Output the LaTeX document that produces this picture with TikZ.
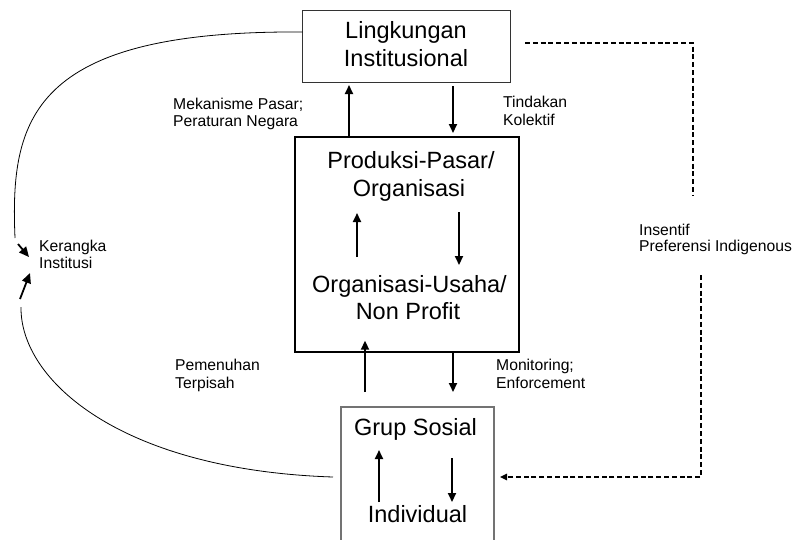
\documentclass[tikz,border=0pt]{standalone}
\usepackage{fontspec}
\setmainfont{Liberation Sans}
\usetikzlibrary{arrows.meta}
\begin{document}
\begin{tikzpicture}[x=1pt,y=-1pt,
  big/.style={font=\fontsize{23.5}{28}\selectfont, inner sep=0pt, anchor=base},
  small/.style={font=\fontsize{15.7}{18}\selectfont, inner sep=0pt, anchor=base west},
  arr/.style={line width=2pt, -{Triangle[length=9pt,width=8pt]}},
  karr/.style={line width=1.8pt, -{Triangle[length=10pt,width=9pt]}},
  thinline/.style={line width=0.8pt},
  dsh/.style={line width=1.5pt, dash pattern=on 5pt off 2.8pt},
  boxnode/.style={inner sep=0pt, outer sep=0pt}]
\useasboundingbox (0,0) rectangle (794,539);
\fill[white] (0,0) rectangle (794,539);

% boxes
\node[boxnode, draw=black!80, line width=0.9pt, minimum width=207.3pt, minimum height=72pt] (top) at (406.3,46) {};
\node[boxnode, draw=black, line width=2pt, minimum width=223.5pt, minimum height=214.7pt] (mid) at (406.75,244.35) {};
\node[boxnode, draw=black!55, line width=1.5pt, minimum width=153pt, minimum height=153pt] (bot) at (417.5,483.5) {};

% box texts
\node[big] (t1) at (406,38.5) {Lingkungan};
\node[big] (t2) at (406,66.5) {Institusional};
\node[big] (m1) at (411,168.5) {Produksi-Pasar/};
\node[big] (m2) at (409,196.5) {Organisasi};
\node[big] (m3) at (409.5,292) {Organisasi-Usaha/};
\node[big] (m4) at (408,319) {Non Profit};
\node[big] (b1) at (415.5,435) {Grup Sosial};
\node[big] (b2) at (417.5,522) {Individual};

% small labels
\node[small] (l1a) at (173,109) {Mekanisme Pasar;};
\node[small] (l1b) at (173,126.5) {Peraturan Negara};
\node[small] (l2a) at (503,107.5) {Tindakan};
\node[small] (l2b) at (503,125) {Kolektif};
\node[small] (l3a) at (639,235) {Insentif};
\node[small] (l3b) at (639,251.5) {Preferensi Indigenous};
\node[small] (l4a) at (39,251) {Kerangka};
\node[small] (l4b) at (39,268) {Institusi};
\node[small] (l5a) at (175,370) {Pemenuhan};
\node[small] (l5b) at (175,388) {Terpisah};
\node[small] (l6a) at (496,370) {Monitoring;};
\node[small] (l6b) at (496,388) {Enforcement};

% x positions of vertical arrows
\coordinate (xa) at (349,0);
\coordinate (xb) at (453,0);
\coordinate (xc) at (365,0);
\coordinate (xd) at (453,0);

% arrows between boxes
\draw[arr, shorten >=3pt] (mid.north -| xa) -- (top.south -| xa);
\draw[arr, shorten <=4pt, shorten >=4pt] (top.south -| xb) -- (mid.north -| xb);
\draw[arr, shorten <=15pt, shorten >=-11pt] (bot.north -| xc) -- (mid.south -| xc);
\draw[arr, shorten >=15pt] (mid.south -| xd) -- (bot.north -| xd);

% arrows inside boxes
\coordinate (p1) at (357,257); \coordinate (p2) at (357,213);
\coordinate (p3) at (459,212); \coordinate (p4) at (459,265);
\coordinate (q1) at (379,502); \coordinate (q2) at (379,450);
\coordinate (q3) at (452,458); \coordinate (q4) at (452,502);
\draw[arr] (p1) -- (p2);
\draw[arr] (p3) -- (p4);
\draw[arr] (q1) -- (q2);
\draw[arr] (q3) -- (q4);

% dashed feedback
\coordinate (d1) at (525,43);
\coordinate (d2) at (693,195);
\coordinate (d3) at (701,275);
\coordinate (d4) at (500,477);
\draw[dsh] (d1) -| (d2);
\draw[dsh, -{Triangle[length=7pt,width=6.5pt]}] (d3) |- (d4);

% left curves to Kerangka Institusi
\coordinate (k0) at (15,238);
\coordinate (k1) at (29,257);
\coordinate (k2) at (21,307);
\coordinate (k3) at (30,273);
\draw[thinline] ([yshift=14pt]top.west) .. controls (30,30) and (10,120) .. (k0);
\draw[karr] (18,244) -- (k1);
\draw[thinline] ([xshift=-8pt,yshift=6.5pt]bot.west) .. controls (120,470) and (20,380) .. (k2);
\draw[karr] (20,299) -- (k3);
\end{tikzpicture}
\end{document}
